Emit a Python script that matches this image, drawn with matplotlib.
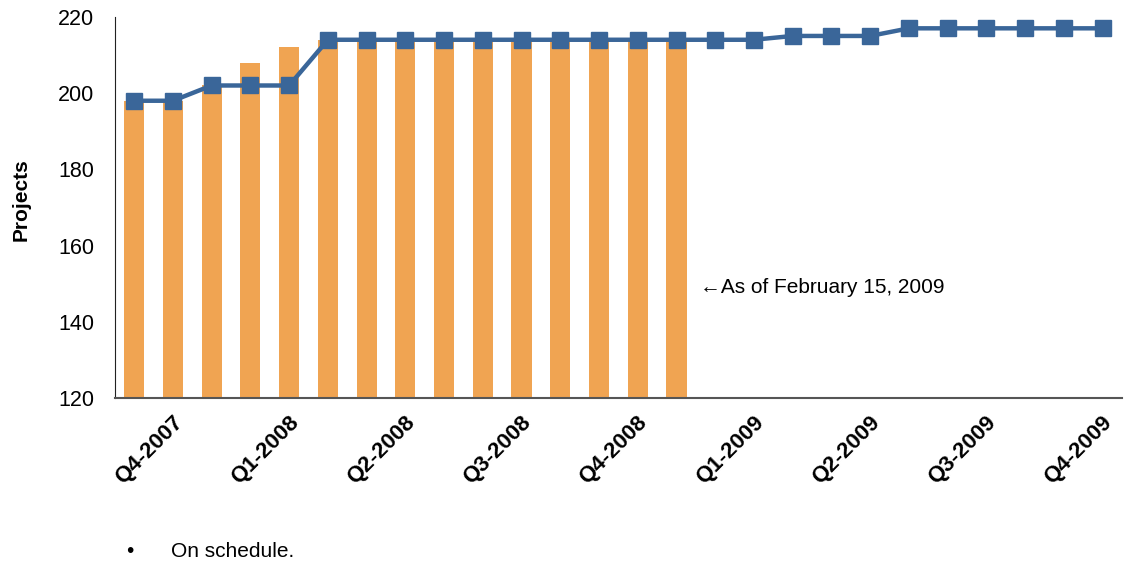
import matplotlib.pyplot as plt
import matplotlib.transforms as mtransforms
import numpy as np

plt.rcParams['font.family'] = ['Liberation Sans', 'DejaVu Sans']

# monthly points, a label every third month (end of quarter)
quarter_labels = ['Q4-2007', 'Q1-2008', 'Q2-2008', 'Q3-2008', 'Q4-2008',
                  'Q1-2009', 'Q2-2009', 'Q3-2009', 'Q4-2009']
label_positions = [1, 4, 7, 10, 13, 16, 19, 22, 25]

# planned projects (line) and actual projects (bars)
planned = [198, 198, 202, 202, 202, 214, 214, 214, 214, 214, 214, 214, 214,
           214, 214, 214, 214, 215, 215, 215, 217, 217, 217, 217, 217, 217]
actual = [198, 198, 202, 208, 212, 214, 214, 214, 214, 214, 214, 214, 214,
          214, 214]

x_line = np.arange(len(planned))
x_bar = np.arange(len(actual))

fig = plt.figure(figsize=(11.26, 5.63), dpi=100)
ax = fig.add_axes([0.102, 0.293, 0.8944, 0.677])

ax.bar(x_bar, actual, width=0.52, color='#F0A452', zorder=2)
ax.plot(x_line, planned, color='#3A6699', linewidth=3.2, marker='s',
        markersize=11.5, zorder=3)

ax.set_xlim(-0.5, len(planned) - 0.5)
ax.set_ylim(120, 220)
ax.set_yticks([120, 140, 160, 180, 200, 220])
ax.tick_params(axis='y', length=0, pad=15, labelsize=15.5)
ax.tick_params(axis='x', length=0, pad=10)

ax.set_xticks(label_positions)
ax.set_xticklabels(quarter_labels, rotation=45, ha='right', va='top',
                   fontsize=16, fontweight='bold')
# shift the rotated labels a bit to the right like excel does
offset = mtransforms.ScaledTranslation(0.14, 0, fig.dpi_scale_trans)
for lab in ax.get_xticklabels():
    lab.set_transform(lab.get_transform() + offset)

ax.set_ylabel('Projects', fontsize=15, fontweight='bold')
ax.yaxis.set_label_coords(-0.084, 0.52)

for side in ['top', 'right']:
    ax.spines[side].set_visible(False)
ax.spines['left'].set_color('#222222')
ax.spines['bottom'].set_color('#555555')
ax.spines['bottom'].set_linewidth(1.5)

ax.text(14.6, 149, '\u2190As of February 15, 2009', fontsize=15,
        va='center', ha='left')

fig.text(0.115, 0.003, '\u2022', fontsize=15, ha='center', va='bottom')
fig.text(0.152, 0.003, 'On schedule.', fontsize=15, ha='left', va='bottom')

fig.savefig('out.png', dpi=100)
